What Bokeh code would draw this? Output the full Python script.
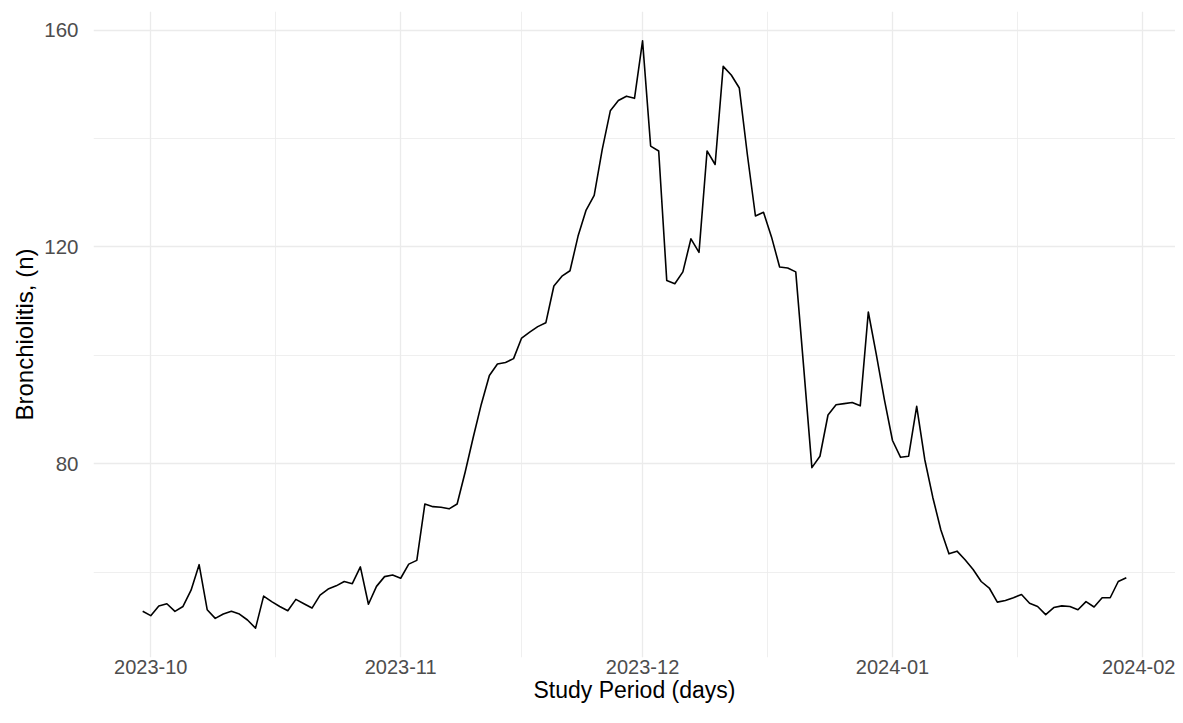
import pandas as pd
from bokeh.plotting import figure
from bokeh.models import ColumnDataSource, FixedTicker, DatetimeTickFormatter, Range1d
from bokeh.embed import file_html
from bokeh.resources import INLINE

# ---------------- data ----------------
start_date = "2023-09-30"
sep_values = [52.8]
oct_values = [52.0, 53.8, 54.2, 52.8, 53.7, 56.7, 61.4, 53.1, 51.5, 52.3,
              52.8, 52.3, 51.2, 49.7, 55.6, 54.6, 53.7, 52.9, 55.0, 54.2,
              53.4, 55.8, 56.9, 57.5, 58.3, 57.9, 61.0, 54.1, 57.4, 59.2, 59.5]
nov_values = [58.9, 61.5, 62.2, 72.6, 72.1, 72.0, 71.7, 72.6, 78.5, 84.9,
              91.0, 96.3, 98.4, 98.7, 99.4, 103.2, 104.3, 105.3, 106.0, 112.8,
              114.6, 115.6, 122.0, 126.8, 129.5, 138.0, 145.1, 147.0, 147.8, 147.4]
dec_values = [158.0, 138.6, 137.7, 113.8, 113.2, 115.4, 121.5, 119.0, 137.7, 135.2,
              153.3, 151.7, 149.3, 137.0, 125.7, 126.4, 121.8, 116.3, 116.1, 115.4,
              97.5, 79.3, 81.4, 89.0, 90.9, 91.1, 91.3, 90.7, 108.0, 100.1, 91.8]
jan_values = [84.3, 81.2, 81.4, 90.6, 80.8, 73.8, 67.8, 63.4, 63.9, 62.3,
              60.5, 58.3, 57.1, 54.5, 54.8, 55.3, 55.9, 54.3, 53.7, 52.2,
              53.5, 53.8, 53.7, 53.1, 54.6, 53.6, 55.3, 55.3, 58.3, 59.0]

x_tick_labels = ["2023-10", "2023-11", "2023-12", "2024-01", "2024-02"]
y_major_ticks = [80, 120, 160]
y_minor_ticks = [60, 100, 140]

x_title = "Study Period (days)"
y_title = "Bronchiolitis, (n)"

# ---------------- build ----------------
values = sep_values + oct_values + nov_values + dec_values + jan_values
dates = pd.date_range(start_date, periods=len(values), freq="D")
src = ColumnDataSource(dict(date=dates, value=values))

def to_ms(ts):
    return pd.Timestamp(ts).value / 1e6

major_ts = [pd.Timestamp(lbl + "-01") for lbl in x_tick_labels]
x_major = [to_ms(t) for t in major_ts]
x_minor = [(a + b) / 2 for a, b in zip(x_major[:-1], x_major[1:])]

dmin, dmax = dates[0], dates[-1]
dspan = dmax - dmin
x_range = Range1d(to_ms(dmin - dspan * 0.05), to_ms(dmax + dspan * 0.05))
vmin, vmax = min(values), max(values)
vspan = vmax - vmin
y_range = Range1d(vmin - 0.05 * vspan, vmax + 0.05 * vspan)

p = figure(width=1175, height=707, x_axis_type="datetime",
           x_range=x_range, y_range=y_range,
           output_backend="svg", toolbar_location=None,
           min_border_left=93, min_border_right=0,
           min_border_top=11, min_border_bottom=50)
p.outline_line_color = None
p.background_fill_color = "white"
p.border_fill_color = "white"

FONT = "Liberation Sans"
TICK_COL = "#4D4D4D"
GRID_COL = "#EBEBEB"

xt = FixedTicker(ticks=x_major, minor_ticks=x_minor)
yt = FixedTicker(ticks=y_major_ticks, minor_ticks=y_minor_ticks)
p.xaxis.ticker = xt
p.yaxis.ticker = yt
fmt = "%Y-%m"
p.xaxis.formatter = DatetimeTickFormatter(
    microseconds=fmt, milliseconds=fmt, seconds=fmt, minsec=fmt, minutes=fmt,
    hourmin=fmt, hours=fmt, days=fmt, months=fmt, years=fmt)

for ax in (p.xaxis[0], p.yaxis[0]):
    ax.axis_line_color = None
    ax.major_tick_line_color = None
    ax.minor_tick_line_color = None
    ax.major_tick_in = 0
    ax.major_tick_out = 0
    ax.minor_tick_in = 0
    ax.minor_tick_out = 0
    ax.major_label_text_font = FONT
    ax.major_label_text_color = TICK_COL
    ax.axis_label_text_font = FONT
    ax.axis_label_text_font_style = "normal"
    ax.axis_label_text_color = "#000000"

p.xaxis.major_label_text_font_size = "20px"
p.yaxis.major_label_text_font_size = "20.5px"
p.xaxis.axis_label_text_font_size = "23px"
p.yaxis.axis_label_text_font_size = "24px"

p.xaxis.axis_label = x_title
p.yaxis.axis_label = y_title
p.xaxis.major_label_standoff = 2
p.xaxis.axis_label_standoff = 0
p.yaxis.major_label_standoff = 15
p.yaxis.axis_label_standoff = 3

for g, t in ((p.xgrid[0], xt), (p.ygrid[0], yt)):
    g.ticker = t
    g.grid_line_color = GRID_COL
    g.grid_line_width = 1.3
    g.minor_grid_line_color = GRID_COL
    g.minor_grid_line_width = 0.8

p.line(x="date", y="value", source=src, line_color="black",
       line_width=1.6, line_join="round")

open("out.html", "w").write(file_html(p, INLINE))
